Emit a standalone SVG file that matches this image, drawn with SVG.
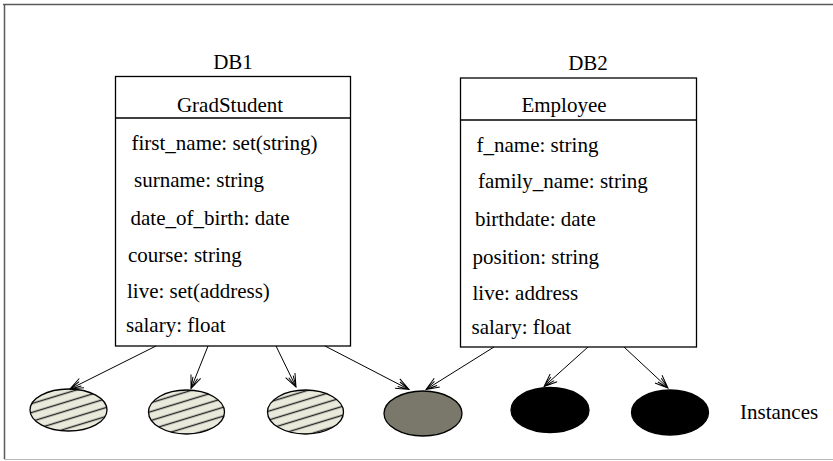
<svg xmlns="http://www.w3.org/2000/svg" width="833" height="461" viewBox="0 0 833 461">
  <defs>
    <style>
      .lbl { font-family: "Liberation Serif", "Times New Roman", serif; font-size: 21px; fill: #000; }
      .mid { text-anchor: middle; }
      .box { fill: #fff; stroke: #000; stroke-width: 1.3; }
      .sep { stroke: #000; stroke-width: 1.3; }
      .link { fill: none; stroke: #000; stroke-width: 1; marker-end: url(#head); }
      .inst { stroke: #000; stroke-width: 1.3; }
    </style>
    <marker id="head" viewBox="0 0 15 12" refX="14" refY="6" markerWidth="15" markerHeight="12" markerUnits="userSpaceOnUse" orient="auto">
      <path d="M1,0.8 L14,6 L1,11.2 M2.5,3.5 L14,6 L2.5,8.5" fill="none" stroke="#000" stroke-width="1"/>
    </marker>
    <pattern id="hatch" patternUnits="userSpaceOnUse" width="20" height="8.5" patternTransform="rotate(-17)">
      <rect width="20" height="8.5" fill="#e9e9dc"/>
      <path d="M0,4.25 H20" stroke="#222" stroke-width="1.4"/>
    </pattern>
  </defs>

  <rect width="833" height="461" fill="#fff"/>

  <!-- outer frame -->
  <g id="frame">
    <line x1="3" y1="4.5" x2="833" y2="4.5" stroke="#5a5a5a" stroke-width="1.5"/>
    <line x1="4.5" y1="4" x2="4.5" y2="459" stroke="#5a5a5a" stroke-width="1.5"/>
    <line x1="4" y1="459.5" x2="833" y2="459.5" stroke="#bbb" stroke-width="1"/>
  </g>

  <!-- database labels -->
  <text class="lbl mid" x="233" y="69">DB1</text>
  <text class="lbl mid" x="588" y="70">DB2</text>

  <!-- DB1 class -->
  <g id="gradstudent">
    <rect class="box" x="115.5" y="76.5" width="235" height="269.5"/>
    <line class="sep" x1="115.5" y1="118" x2="350.5" y2="118"/>
    <text class="lbl mid" x="230" y="111.5">GradStudent</text>
    <text class="lbl" x="131.5" y="150">first_name: set(string)</text>
    <text class="lbl" x="134" y="187">surname: string</text>
    <text class="lbl" x="130.5" y="225">date_of_birth: date</text>
    <text class="lbl" x="128" y="262">course: string</text>
    <text class="lbl" x="127" y="298">live: set(address)</text>
    <text class="lbl" x="126" y="332">salary: float</text>
  </g>

  <!-- DB2 class -->
  <g id="employee">
    <rect class="box" x="460.5" y="78" width="236" height="269"/>
    <line class="sep" x1="460.5" y1="120" x2="696.5" y2="120"/>
    <text class="lbl mid" x="564" y="112">Employee</text>
    <text class="lbl" x="476.5" y="151.5">f_name: string</text>
    <text class="lbl" x="478" y="188">family_name: string</text>
    <text class="lbl" x="475" y="225.5">birthdate: date</text>
    <text class="lbl" x="472.5" y="264">position: string</text>
    <text class="lbl" x="472.5" y="300">live: address</text>
    <text class="lbl" x="471.5" y="334">salary: float</text>
  </g>

  <!-- instances -->
  <g id="inst1"><ellipse class="inst" cx="68.5" cy="410" rx="38.5" ry="21" fill="url(#hatch)"/></g>
  <g id="inst2"><ellipse class="inst" cx="186.5" cy="412" rx="38" ry="22" fill="url(#hatch)"/></g>
  <g id="inst3"><ellipse class="inst" cx="305.5" cy="412" rx="38" ry="22" fill="url(#hatch)"/></g>
  <g id="inst4"><ellipse class="inst" cx="423" cy="413.5" rx="39" ry="22.5" fill="#79786a"/></g>
  <g id="inst5"><ellipse class="inst" cx="550" cy="410" rx="39" ry="22.5" fill="#000"/></g>
  <g id="inst6"><ellipse class="inst" cx="670" cy="412.5" rx="38.5" ry="22.5" fill="#000"/></g>

  <text class="lbl" x="740" y="419">Instances</text>

  <!-- instance-of connectors -->
  <g id="connectors">
    <line class="link" x1="156" y1="346" x2="70" y2="389"/>
    <line class="link" x1="208" y1="346" x2="191" y2="388.5"/>
    <line class="link" x1="276" y1="346" x2="296" y2="387"/>
    <line class="link" x1="325" y1="346" x2="409" y2="389.5"/>
    <line class="link" x1="494" y1="347" x2="426" y2="389.5"/>
    <line class="link" x1="588" y1="347" x2="544" y2="386.5"/>
    <line class="link" x1="624" y1="347" x2="668" y2="388"/>
  </g>
</svg>
